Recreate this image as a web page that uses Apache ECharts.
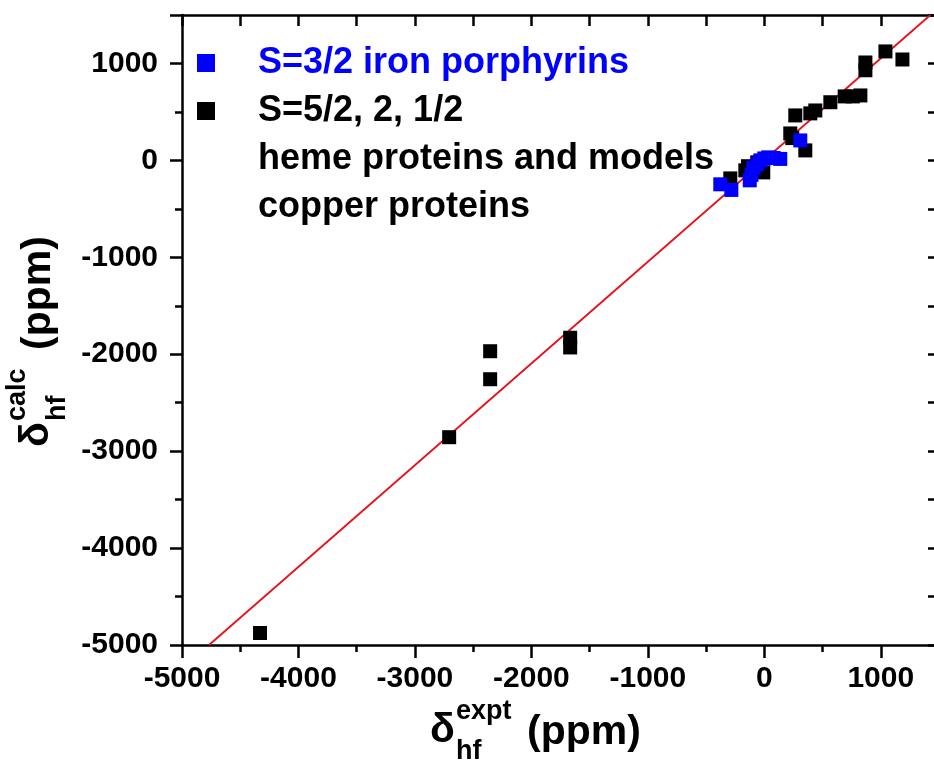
<!DOCTYPE html>
<html>
<head>
<meta charset="utf-8">
<script src="https://cdn.jsdelivr.net/npm/echarts@6/dist/echarts.min.js"></script>
<style>
  html, body { margin: 0; padding: 0; background: #fff; }
  #main { width: 934px; height: 765px; }
</style>
</head>
<body>
<div id="main"></div>
<script>
// legend texts
var blueName = 'S=3/2 iron porphyrins';
var blackName = 'S=5/2, 2, 1/2';
var extraLines = ['heme proteins and models', 'copper proteins'];

// [expt, calc] in ppm
var bluePts = [
  [-378, -247], [-283, -305], [-125, -206], [-110, -150], [-95, -80],
  [-60, -40], [-34, 0], [0, 20], [34, 31], [80, 25], [137, 15], [309, 206]
];
var blackPts = [
  [-4330, -4876], [-2706, -2856], [-2354, -1969], [-2354, -2258],
  [-1667, -1830], [-1667, -1930],
  [-292, -186], [-163, -103], [-140, -60], [-9, -124], [-60, -20],
  [223, 278], [240, 230], [266, 464], [352, 103], [395, 485], [438, 515],
  [567, 600], [690, 660], [760, 660], [825, 670], [868, 930], [868, 1010],
  [1040, 1124], [1186, 1041]
];
// red reference line end points
var fitLine = [[-4768, -5000], [1426, 1500]];

var axMin = -5000, axMax = 1500;

var myChart = echarts.init(document.getElementById('main'));

var FONT = 'Liberation Sans, Arial, Helvetica, sans-serif';
var black = '#000';

function lbl(v) { return v % 1000 === 0 ? String(v) : ''; }

function mkAxis(pos, opts) {
  var a = {
    type: 'value', position: pos, min: axMin, max: axMax,
    interval: opts.interval,
    axisLine: { show: opts.line, onZero: false, lineStyle: { color: black, width: 2.5 } },
    axisTick: { show: true, inside: !!opts.inside, length: opts.tick, lineStyle: { color: black, width: 2.5 } },
    axisLabel: { show: false },
    splitLine: { show: false }
  };
  if (opts.labels) {
    a.axisLabel = {
      show: true, formatter: lbl, margin: opts.margin,
      fontFamily: FONT, fontWeight: 'bold', fontSize: 30, color: black,
      showMinLabel: true, showMaxLabel: false
    };
  }
  return a;
}

function axTitle(x, y, rot, sup) {
  var f1 = 'bold 41px ' + FONT, f2 = 'bold 27px ' + FONT;
  function t(tx, ty, s, f) {
    return { type: 'text', x: tx, y: ty,
      style: { text: s, font: f, fill: black, align: 'left', verticalAlign: 'middle', textVerticalAlign: 'middle' } };
  }
  return { type: 'group', x: x, y: y, rotation: rot, children: [
    t(0, 0, 'δ', f1),
    t(26, -19, sup, f2),
    t(26, 21, 'hf', f2),
    t(97, 2, '(ppm)', f1)
  ] };
}

var option = {
  animation: false,
  backgroundColor: '#fff',
  grid: { left: 182, right: -5, top: 15, bottom: 120, containLabel: false, outerBoundsMode: 'none' },
  xAxis: [
    mkAxis('bottom', { interval: 500, line: true, tick: 7, labels: true, margin: 19 }),
    mkAxis('bottom', { interval: 1000, line: false, tick: 13 }),
    mkAxis('top', { interval: 500, line: true, tick: 11, inside: true })
  ],
  yAxis: [
    mkAxis('left', { interval: 500, line: true, tick: 7, labels: true, margin: 24 }),
    mkAxis('left', { interval: 1000, line: false, tick: 12 }),
    mkAxis('right', { interval: 500, line: true, tick: 11, inside: true })
  ],
  legend: {
    left: 197, top: 45, orient: 'vertical', padding: 0,
    itemWidth: 18, itemHeight: 18, itemGap: 12, icon: 'rect',
    textStyle: { fontFamily: FONT, fontWeight: 'bold', fontSize: 36, color: black, lineHeight: 36, padding: [0, 0, 0, 38] },
    data: [
      { name: blueName, textStyle: { color: '#0000ff' } },
      { name: blackName }
    ]
  },
  graphic: [
    { type: 'text', left: 258, top: 141,
      style: { text: extraLines[0], font: 'bold 36px ' + FONT, fill: black } },
    { type: 'text', left: 258, top: 189,
      style: { text: extraLines[1], font: 'bold 36px ' + FONT, fill: black } },
    axTitle(430, 731, 0, 'expt'),
    axTitle(37, 447, Math.PI / 2, 'calc')
  ],
  series: [
    {
      name: 'fit', type: 'line', data: fitLine, symbol: 'none', silent: true,
      lineStyle: { color: '#e8101a', width: 1.8 }, clip: true, z: 1
    },
    {
      name: blackName, type: 'scatter', data: blackPts, symbol: 'rect', symbolSize: 14,
      itemStyle: { color: '#000', opacity: 1 }, z: 2
    },
    {
      name: blueName, type: 'scatter', data: bluePts, symbol: 'rect', symbolSize: 14,
      itemStyle: { color: '#0000ff', opacity: 1 }, z: 3
    }
  ]
};

myChart.setOption(option);
</script>
</body>
</html>
